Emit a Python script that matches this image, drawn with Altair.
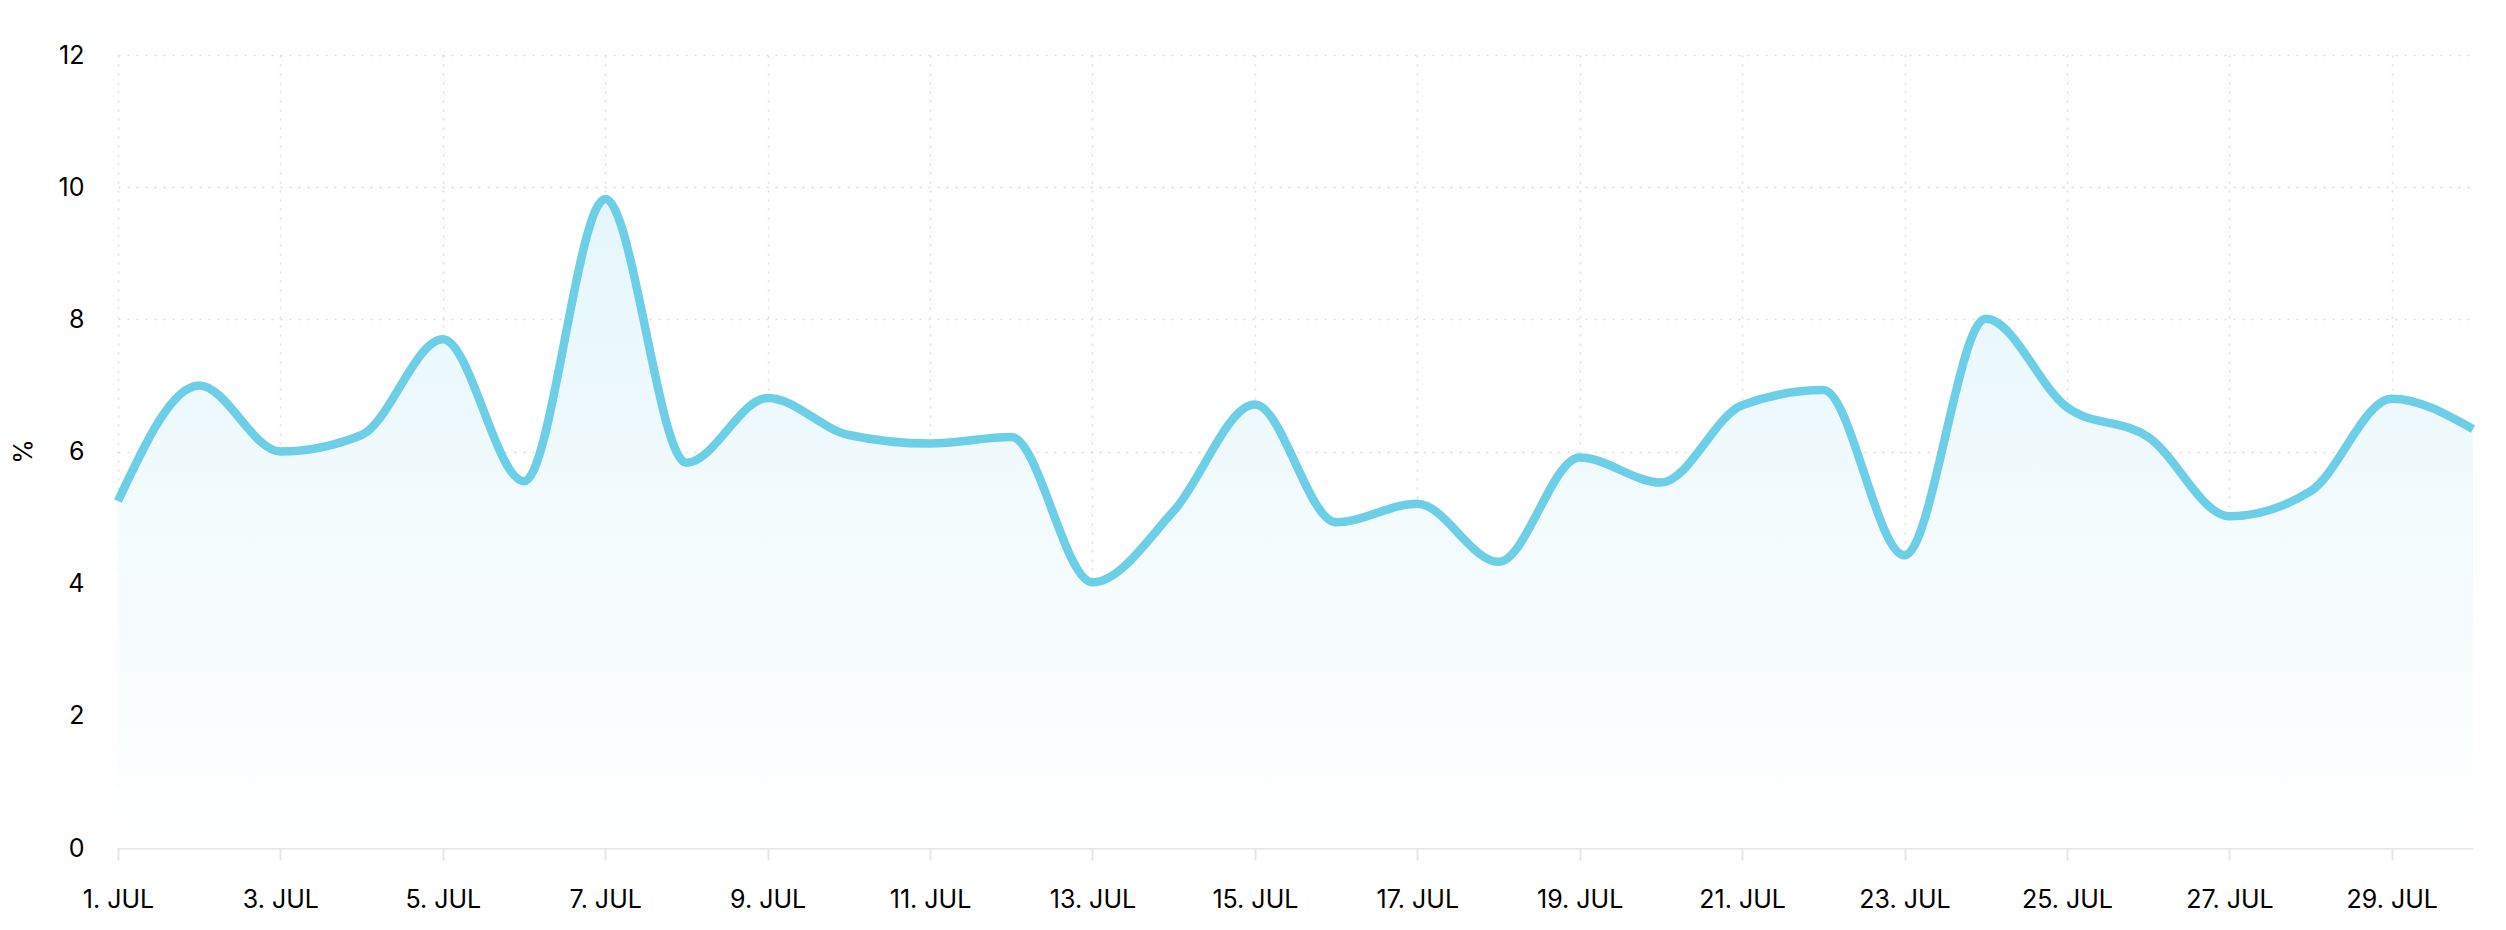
import altair as alt
import pandas as pd

days = list(range(1, 31))
values = [5.25, 7.0, 6.0, 6.25, 7.7, 5.55, 9.82, 5.83, 6.81, 6.25,
          6.12, 6.22, 4.02, 5.1, 6.71, 4.93, 5.21, 4.33, 5.91, 5.53,
          6.7, 6.93, 4.43, 8.01, 6.67, 6.22, 5.02, 5.4, 6.8, 6.34]
tick_days = list(range(1, 30, 2))
month_label = "JUL"
y_ticks = [0, 2, 4, 6, 8, 10, 12]

df = pd.DataFrame({"day": days, "value": values})

line_color = "#6DCFE6"
font = "Inter"

x_enc = alt.X(
    "day:Q",
    scale=alt.Scale(domain=[1, 30], nice=False, zero=False),
    axis=alt.Axis(
        values=tick_days,
        labelExpr=f"datum.value + '. {month_label}'",
        title=None,
        grid=True,
        gridColor="#dcdcdc",
        gridDash=[2, 7],
        gridWidth=1.5,
        domain=True,
        domainColor="#e6e6e6",
        domainWidth=2,
        ticks=True,
        tickColor="#e6e6e6",
        tickWidth=2,
        tickSize=12,
        labelPadding=27,
        labelFontSize=25,
        labelFont=font,
        labelColor="#000000",
        labelFlush=False,
    ),
)

y_enc = alt.Y(
    "value:Q",
    scale=alt.Scale(domain=[0, 12], nice=False),
    axis=alt.Axis(
        values=y_ticks,
        format="d",
        title="%",
        titleAngle=-90,
        titleX=-95,
        titleY=396,
        titleBaseline="middle",
        titleAlign="center",
        titleFontSize=25,
        titleFont=font,
        titleFontWeight="normal",
        titleColor="#000000",
        grid=True,
        gridColor="#dcdcdc",
        gridDash=[2, 7],
        gridWidth=1.5,
        domain=False,
        ticks=False,
        labelPadding=34,
        labelFontSize=25,
        labelFont=font,
        labelColor="#000000",
    ),
)

area = alt.Chart(df).mark_area(
    interpolate="monotone",
    color=alt.Gradient(
        gradient="linear",
        stops=[
            alt.GradientStop(color="#e4f6fc", offset=0),
            alt.GradientStop(color="#f3fbfd", offset=0.5),
            alt.GradientStop(color="#ffffff", offset=1),
        ],
        x1=1, x2=1, y1=0, y2=1,
    ),
).encode(x=x_enc, y=y_enc)

line = alt.Chart(df).mark_line(
    interpolate="monotone",
    color=line_color,
    strokeWidth=8.5,
    strokeCap="butt",
    strokeJoin="round",
).encode(x="day:Q", y="value:Q")

chart = (
    alt.layer(area, line)
    .properties(
        width=2355,
        height=793,
        autosize=alt.AutoSizeParams(type="none"),
        padding={"left": 110, "top": 47, "right": 25, "bottom": 74},
        background="white",
    )
    .configure_view(stroke=None)
)

chart.save("out.html", embed_options={"renderer": "svg", "actions": False})
